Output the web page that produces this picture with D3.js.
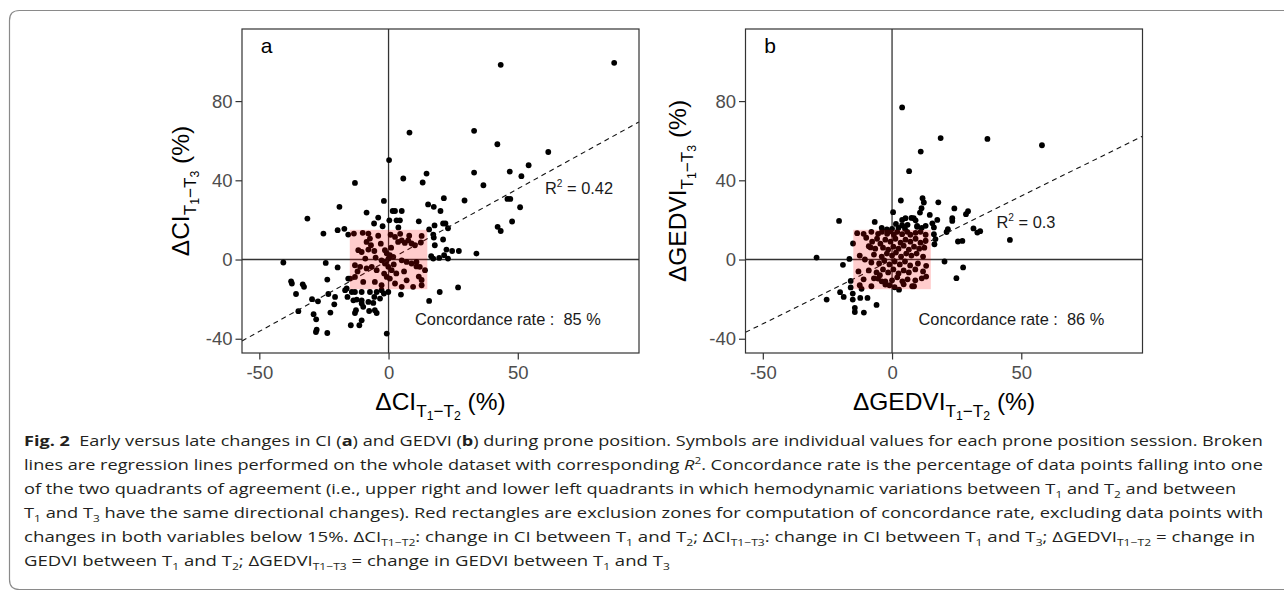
<!DOCTYPE html>
<html>
<head>
<meta charset="utf-8">
<script src="https://cdn.jsdelivr.net/npm/d3@7"></script>
<style>
  body { margin: 0; background: #fff; }
  svg { display: block; }
  text { white-space: pre; }
</style>
</head>
<body>
<script>
// ---- data (x = early change T1-T2, y = late change T1-T3, %) ----
const ciPoints = [
  [87.3,99.3],[43.4,98.3],[33.1,65],[8.1,64.1],[42.1,58.2],[61.8,54.3],[54.2,47.6],[0.2,50.2],
  [46.9,44.4],[33.1,43.9],[51.4,42.1],[5.7,40.9],[14.7,43.4],[13.2,38.9],[36.7,37.5],[21.4,31],
  [29.4,29.8],[46,30.6],[47.1,30.6],[50.9,26.4],[15.3,27.8],[17.5,26.6],[20.1,24.5],[1.6,24.5],
  [2.5,24.5],[5.1,24.5],[0.3,19.8],[3.1,19.8],[4.4,19.8],[3.8,16.2],[11.7,19.3],[17.8,17.2],
  [21.1,18.2],[22,18.2],[23,15.8],[15.7,15.2],[17.3,12.6],[17.5,11.1],[21.1,10.1],[17.9,7.2],
  [22.4,5],[24.6,4.3],[27.2,4.3],[16.5,1.7],[17.3,0.5],[19.6,0.8],[21.5,2.2],[23,0.5],[34,3],
  [42.2,16.5],[43.4,14.4],[47.8,19.2],
  [-1.8,29.6],[-13,38.7],[-19,26.6],[-31.4,20.7],[-25.2,13.1],[-19.7,14.8],[-17.1,15.5],
  [-8.5,23.7],[-4,21.2],[-5.6,18.2],[-2.3,16.8],[-15.6,12.6],[-13.4,13.1],
  [-40.7,-1.5],[-24.3,-1.7],[-19.7,-4],[-37.7,-11],[-37.4,-12.1],[-33.2,-12.5],[-32.7,-13.8],
  [-35.8,-17.4],[-23.7,-10.1],[-23.3,-17.4],[-20.7,-18.9],[-21,-22.6],[-29.6,-20],[-27.3,-21.1],
  [-34.9,-26.1],[-22.5,-26.8],[-29,-27.6],[-28,-30.2],[-27.8,-35.4],[-28.1,-36.6],[-23.7,-37.1],
  [-15.6,-9.6],[-16.2,-14.6],[-16.8,-15.5],[-13,-16.4],[-14.2,-16.4],[-15.9,-18.9],[-13.6,-20.6],
  [-12.3,-20.2],[-10.4,-20.6],[-10.4,-16.4],[-7.2,-16.4],[-5.5,-18.9],[-3.3,-19.7],[-4.6,-16.4],
  [-2.7,-15.5],[-7.8,-21.4],[-5.9,-21.9],[-12.6,-25.6],[-13,-27],[-10.4,-22.2],[-9.8,-23.9],
  [-7.5,-26],[-5.3,-25.6],[-4.6,-27],[-14.6,-33.2],[-11.3,-33.2],[-10.4,-30.7],[-0.7,-37.4],
  [-1.8,-17.2],[-0.1,-16.4],
  [4.8,-17.7],[15.7,-20.9],[19.8,-16.4],[26.9,-14.1],
  [-7.8,13.1],[-7.2,10.6],[-8.5,8.9],[-6.8,7.2],[-11.7,4.7],[-10.4,3.8],[-7.8,5],[-5.5,4.3],
  [-1.4,4.7],[-0.7,3],[0.5,2.2],[1.8,1.3],[2.5,11.4],[3.7,8.9],[5.1,9.7],[6.3,8.4],[7.6,9.7],
  [8.9,8.1],[10.2,7.2],[5.1,-0.4],[7,-1.2],[8.9,-2],[10.8,-1.2],[12.1,-3.7],[14.1,-5.4],
  [-13,-2.9],[-11,-3.7],[-8.5,-4.5],[-6.5,-3.7],[-4.6,-5.4],[-2.7,-0.4],[-1.4,-2],[-0.1,-3.7],
  [1.2,-5.4],[-1.7,-7.1],[-0.7,-8.8],[0.5,-9.6],[-14.9,-9.6],[-13,-8.8],[-9.8,-11.3],[-5.3,-11.3],
  [-2.7,-13],[2.5,-12.1],[5.1,-13.8],[7,-10.5],[9.5,-13.8],[12.8,-13],[12.8,11.9],[12.5,8.6],
  [11.7,-8.6],[12.8,-10.3],[10.8,-3.5],[-10,13.5],[-4,12],[0.8,12.5],[4.5,13],[8,12],[-3,8],
  [1,6],[-12,-6],[3,-7],[6,-6],[-9,0.5],[-5,1],[2,-2.5],[0,0.5],[-1,-1]
];

const gedviPoints = [
  [3.9,76.8],[18.8,61.3],[36.9,60.9],[58,57.7],[11.1,54.5],[6.6,44.6],[3.4,29.8],[11.8,31],
  [12.3,28.8],[17.9,28.9],[24.1,25.8],[29.4,24.4],[28.6,22.9],[0.4,23.9],[11.4,25.9],[10.8,23.7],
  [14.6,22.5],[-6.7,19],[3.9,20],[5.2,20.9],[8.4,20.9],[17.5,20],[23.3,20.9],[23.3,19.5],[9.7,17],
  [15.6,18.3],[16.2,16.2],[21.6,15.3],[21.1,13.9],[31.5,15.7],[33,13.6],[34.1,14.3],[25.5,9.1],
  [27.2,9.4],[45.6,9.9],[16.2,12.8],[16.8,10.3],[16.4,7.7],[20.3,-1],[27.5,-4],[24.9,-9.4],
  [13.2,-3.2],[13.2,-8.6],[3.9,17.3],[7.5,21],[9.1,19.8],[9.7,16.5],
  [-29.2,1],[-20.5,19.5],[-19,-2.7],[-16.5,0.3],[-15.1,8.1],[-13.5,13.3],[-16,-10.8],[-16,-14.1],
  [-20.1,-16.5],[-18.7,-18.9],[-25.3,-20.2],[-15.2,-17.2],[-15.2,-20.2],[-12.3,-19.4],[-9.5,-19.4],
  [-14.4,-24.4],[-14.4,-26.5],[-10.9,-26.8],[-6,-22.9],[-11.8,-14.8],[-10.5,0],[-9,6.7],[-8.3,6.1],
  [2.7,-15.2],[7.8,-13.5],[-2.6,-12.6],[-2.6,-11],[-5.4,-9.6],[-4.7,-7.9],
  [-5.4,13],[-3.9,14],[-1.9,13],[-0.6,14.2],[0.7,12.5],[2,14],[3.9,12.8],[5.9,14],[7.1,12.5],
  [9.1,13.5],[11,14],[13,12.5],[-8,14],[-11,13],
  [-7.7,9],[-5.8,10.5],[-4.5,8],[-2.6,10],[-0.6,9],[1.3,10.5],[3.3,8.5],[5.2,10],[7.1,9],[9.1,10.5],
  [11,8.5],[13,9.5],[-10,11],
  [-6.5,5.5],[-3.5,6],[-1.5,5],[0.5,6.5],[2.5,5.5],[4.5,7],[6.5,5],[8.5,6.5],[10.5,5.5],[12.5,6],
  [-12.5,2],[-7,2.5],[-4,1.5],[-2,3],[0,2],[1.5,3.5],[3.5,1.5],[5.5,3],[7.5,2],[9.5,3],[12,1.5],
  [-8,-1.5],[-5,-2],[-3,-0.5],[-1,-2.5],[1,-1],[3,-2.5],[5,-1],[7,-3],[10,-2],
  [-13,-6],[-9,-5.5],[-6,-6.5],[-3.5,-5],[-1.5,-6.5],[0.5,-5],[2.5,-7],[4.5,-5.5],[6.5,-6.5],
  [9,-5],[12,-6],
  [-11,-10],[-7,-9.5],[-4,-11],[0,-10.5],[2,-9],[4,-11],[6,-10],[9,-10.5],[11.5,-9.5],
  [-12.5,-13],[-8,-13.5],[-1,-13],[1,-14],[4.5,-12.5],[8.5,-13.5],
  [0,15.5],[2.5,16],[5,15.5],[-2,15.2],[11.5,16],[6,17.5],[13,17],[1.5,18],[-4,16]
];

const xTicks = [-50, 0, 50];
const yTicks = [-40, 0, 40, 80];
const xDomain = [-56.7, 96.9];
const yDomain = [-47.2, 116.4];
const exclusion = 15;                 // +/- 15 % exclusion zone
const fits = { a: [0.72, -0.3], b: [0.645, -0.2] };   // slope, intercept
const r2 = { a: '0.42', b: '0.3' };
const concordance = { a: 85, b: 86 };

const W = 1284, H = 592;
const PW = 397, PH = 324, TOP = 29;

const svg = d3.select('body').append('svg')
  .attr('width', W)
  .attr('height', H)
  .attr('font-family', '"Liberation Sans", Arial, sans-serif');

// outer frame of the figure
svg.append('path')
  .attr('d', 'M1292,10.5 H19.5 Q9.5,10.5 9.5,20.5 V579.5 Q9.5,589.5 19.5,589.5 H1292')
  .attr('fill', 'none')
  .attr('stroke', '#8a8a8a')
  .attr('stroke-width', 1.2);

// text with sub/superscripts, built from [string, kind] pairs
function rich(text, parts, size, subScale) {
  subScale = subScale || 0.7;
  var off = 0;
  parts.forEach(function(p) {
    var s = p[0], k = p[1] || '';
    var target = 0, fs = size;
    if (k === 'sub') { target = 0.28 * size; fs = subScale * size; }
    if (k === 'sub2') { target = 0.42 * size; fs = 0.5 * size; }
    if (k === 'sup') { target = -0.4 * size; fs = subScale * size; }
    var t = text.append('tspan')
      .attr('dy', (target - off).toFixed(2))
      .attr('font-size', fs)
      .text(s);
    if (k === 'b') t.attr('font-weight', 'bold');
    if (k === 'i') t.attr('font-style', 'italic');
    off = target;
  });
}

function panel(opts) {
  var g = svg.append('g').attr('transform', 'translate(' + opts.left + ',' + TOP + ')');

  var x = d3.scaleLinear().domain(xDomain).range([0, PW]);
  var y = d3.scaleLinear().domain(yDomain).range([PH, 0]);

  // zero lines
  g.append('line')
    .attr('x1', 0).attr('x2', PW).attr('y1', y(0)).attr('y2', y(0))
    .attr('stroke', '#333').attr('stroke-width', 1.3);
  g.append('line')
    .attr('x1', x(0)).attr('x2', x(0)).attr('y1', 0).attr('y2', PH)
    .attr('stroke', '#333').attr('stroke-width', 1.3);

  g.selectAll('circle')
    .data(opts.points)
    .enter()
    .append('circle')
    .attr('cx', function(d) { return x(d[0]); })
    .attr('cy', function(d) { return y(d[1]); })
    .attr('r', 2.9)
    .attr('fill', '#000');

  // regression line across the whole panel
  var fit = opts.fit;
  g.append('line')
    .attr('x1', x(xDomain[0])).attr('y1', y(fit[0] * xDomain[0] + fit[1]))
    .attr('x2', x(xDomain[1])).attr('y2', y(fit[0] * xDomain[1] + fit[1]))
    .attr('stroke', '#111')
    .attr('stroke-width', 1.1)
    .attr('stroke-dasharray', '5,4');

  // exclusion zone
  g.append('rect')
    .attr('x', x(-exclusion)).attr('y', y(exclusion))
    .attr('width', x(exclusion) - x(-exclusion))
    .attr('height', y(-exclusion) - y(exclusion))
    .attr('fill', 'red')
    .attr('fill-opacity', 0.2);

  g.append('rect')
    .attr('width', PW).attr('height', PH)
    .attr('fill', 'none')
    .attr('stroke', '#333')
    .attr('stroke-width', 1.2);

  var xa = g.append('g')
    .attr('transform', 'translate(0,' + PH + ')')
    .call(d3.axisBottom(x).tickValues(xTicks).tickSize(6.5).tickPadding(6)
      .tickFormat(function(d) { return d; }));
  var ya = g.append('g')
    .call(d3.axisLeft(y).tickValues(yTicks).tickSize(6.5).tickPadding(3)
      .tickFormat(function(d) { return d; }));
  [xa, ya].forEach(function(a) {
    a.select('.domain').remove();
    a.selectAll('line').attr('stroke', '#333').attr('stroke-width', 1.2);
    a.selectAll('text')
      .attr('font-family', '"Liberation Sans", Arial, sans-serif')
      .attr('font-size', 18.5)
      .attr('fill', '#4d4d4d');
  });

  g.append('text')
    .attr('x', 18.7).attr('y', 24)
    .attr('font-size', 21)
    .attr('fill', '#000')
    .text(opts.tag);

  var rt = g.append('text')
    .attr('x', opts.r2x).attr('y', opts.r2y)
    .attr('fill', '#1a1a1a');
  rich(rt, [['R', ''], ['2', 'sup'], [' = ' + opts.r2, '']], 16.4, 0.62);

  g.append('text')
    .attr('x', 173).attr('y', 296)
    .attr('font-size', 16.4)
    .attr('fill', '#1a1a1a')
    .text('Concordance rate :  ' + opts.conc + ' %');

  var xt = g.append('text')
    .attr('x', PW / 2).attr('y', 381)
    .attr('text-anchor', 'middle')
    .attr('fill', '#000');
  rich(xt, [['Δ' + opts.name, ''], ['T', 'sub'], ['1', 'sub2'], ['−', 'sub'], ['T', 'sub'], ['2', 'sub2'], [' (%)', '']], 24.5);

  var yt = g.append('text')
    .attr('transform', 'translate(' + opts.ytx + ',' + (PH / 2) + ') rotate(-90)')
    .attr('text-anchor', 'middle')
    .attr('fill', '#000');
  rich(yt, [['Δ' + opts.name, ''], ['T', 'sub'], ['1', 'sub2'], ['−', 'sub'], ['T', 'sub'], ['3', 'sub2'], [' (%)', '']], 24.5);
}

panel({ left: 242, points: ciPoints, fit: fits.a, tag: 'a', name: 'CI',
  r2: r2.a, r2x: 303, r2y: 165, conc: concordance.a, ytx: -53 });
panel({ left: 745.5, points: gedviPoints, fit: fits.b, tag: 'b', name: 'GEDVI',
  r2: r2.b, r2x: 251, r2y: 199, conc: concordance.b, ytx: -59.5 });

// ---- caption ----
const captionLines = [
  [['Fig. 2', 'b'], ['  Early versus late changes in CI ('], ['a', 'b'], [') and GEDVI ('], ['b', 'b'],
   [') during prone position. Symbols are individual values for each prone position session. Broken']],
  [['lines are regression lines performed on the whole dataset with corresponding '], ['R', 'i'], ['2', 'sup'],
   ['. Concordance rate is the percentage of data points falling into one']],
  [['of the two quadrants of agreement (i.e., upper right and lower left quadrants in which hemodynamic variations between T'],
   ['1', 'sub'], [' and T'], ['2', 'sub'], [' and between']],
  [['T'], ['1', 'sub'], [' and T'], ['3', 'sub'],
   [' have the same directional changes). Red rectangles are exclusion zones for computation of concordance rate, excluding data points with']],
  [['changes in both variables below 15%. ΔCI'], ['T1−T2', 'sub'], [': change in CI between T'], ['1', 'sub'], [' and T'], ['2', 'sub'],
   ['; ΔCI'], ['T1−T3', 'sub'], [': change in CI between T'], ['1', 'sub'], [' and T'], ['3', 'sub'], ['; ΔGEDVI'], ['T1−T2', 'sub'],
   [' = change in']],
  [['GEDVI between T'], ['1', 'sub'], [' and T'], ['2', 'sub'], ['; ΔGEDVI'], ['T1−T3', 'sub'], [' = change in GEDVI between T'],
   ['1', 'sub'], [' and T'], ['3', 'sub']]
];
const captionEnds = [1264, 1264, 1237, 1264, 1256, 670];
const capX = 24, capY0 = 446, capStep = 24;

captionLines.forEach(function(parts, i) {
  var t = svg.append('text')
    .attr('x', 0).attr('y', 0)
    .attr('font-family', '"Open Sans", sans-serif')
    .attr('fill', '#231f20');
  rich(t, parts, 15, 0.65);
  var w = t.node().getBBox().width;
  var sx = (captionEnds[i] - capX) / w;
  t.attr('transform', 'translate(' + capX + ',' + (capY0 + i * capStep) + ') scale(' + sx.toFixed(4) + ',1)');
});
</script>
</body>
</html>
